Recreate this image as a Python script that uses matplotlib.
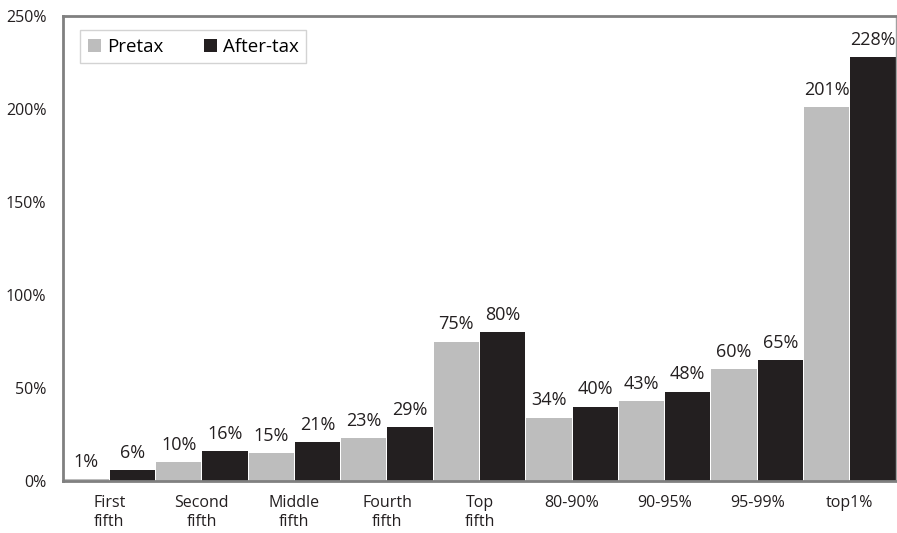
import matplotlib.pyplot as plt
import numpy as np

plt.rcParams['font.family'] = ['Open Sans', 'DejaVu Sans']

groups = ["First\nfifth", "Second\nfifth", "Middle\nfifth", "Fourth\nfifth", "Top\nfifth",
          "80-90%", "90-95%", "95-99%", "top1%"]
pretax = [1, 10, 15, 23, 75, 34, 43, 60, 201]
aftertax = [6, 16, 21, 29, 80, 40, 48, 65, 228]
yticks = [0, 50, 100, 150, 200, 250]

fig = plt.figure(figsize=(8.97, 5.33), dpi=100)
ax = fig.add_axes([63 / 897, 1 - 481 / 533, (896 - 63) / 897, (481 - 16) / 533])

x = np.arange(len(groups))
w = 0.49
b1 = ax.bar(x - 0.25, pretax, w, color="#bdbdbd", label="Pretax")
b2 = ax.bar(x + 0.25, aftertax, w, color="#231f20", label="After-tax")

for bars, vals in [(b1, pretax), (b2, aftertax)]:
    for rect, v in zip(bars, vals):
        ax.annotate(f"{v}%", (rect.get_x() + rect.get_width() / 2, v),
                    xytext=(0, 6), textcoords="offset points",
                    ha="center", va="bottom", fontsize=13, color="#231f20")

ax.set_xlim(-0.5, 8.5)
ax.set_ylim(0, 250)
ax.set_yticks(yticks)
ax.set_yticklabels([f"{t}%" for t in yticks], fontsize=11.5, color="#231f20")
ax.set_xticks(x)
ax.set_xticklabels(groups, fontsize=11.5, color="#231f20", linespacing=1.3)
ax.tick_params(length=0, pad=10)
ax.tick_params(axis="y", pad=12)

for s in ["left", "bottom", "top"]:
    ax.spines[s].set_color("#808080")
    ax.spines[s].set_linewidth(2)
ax.spines["right"].set_color("#a0a0a0")
ax.spines["right"].set_linewidth(1)

leg = ax.legend(loc="upper left", bbox_to_anchor=(0.012, 0.985), ncol=2, fontsize=13.5,
                frameon=True, fancybox=False, edgecolor="#c8c8c8", handlelength=0.7,
                handleheight=0.7, columnspacing=2.2, handletextpad=0.3, borderpad=0.4,
                borderaxespad=0.4)
leg.get_frame().set_linewidth(1)

fig.savefig("out.png", dpi=100)
